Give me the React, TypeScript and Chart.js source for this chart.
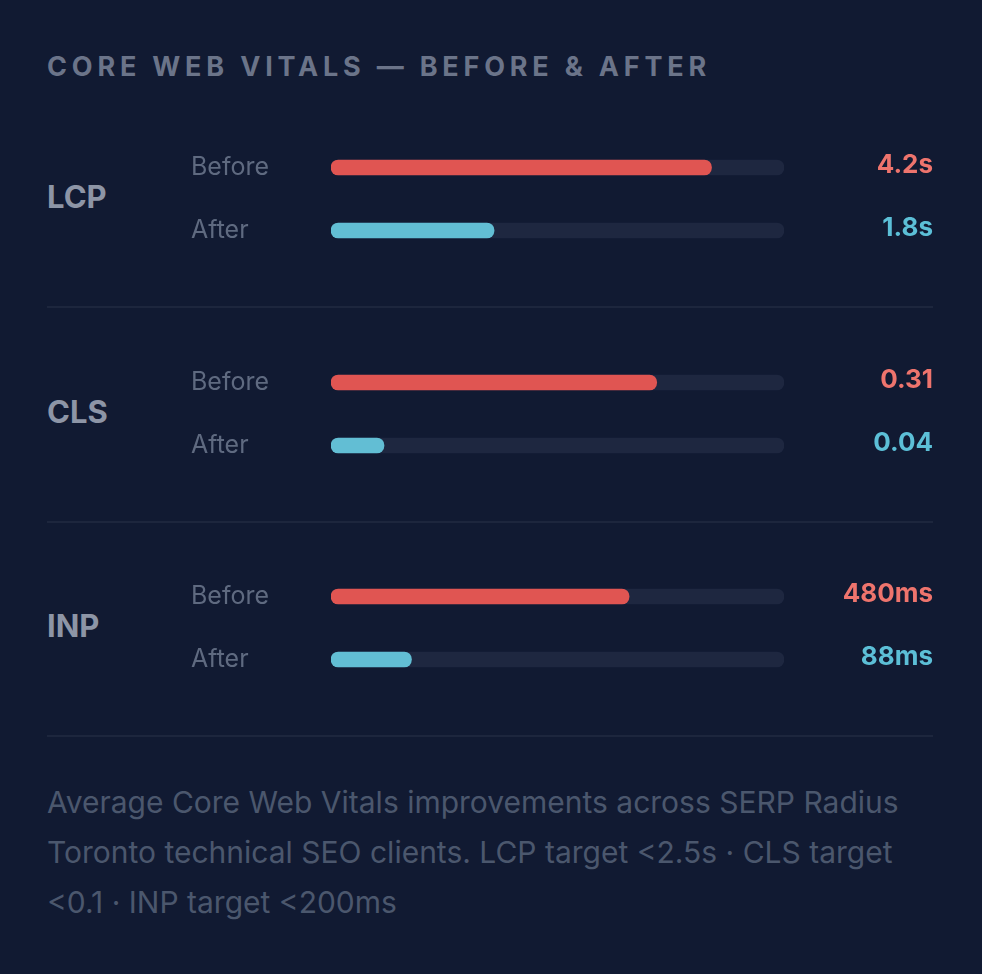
import React, { useEffect, useRef } from "react";
import { Chart, registerables } from "chart.js";

Chart.register(...registerables);

// Metrics and their before / after measurements
const metrics = ["LCP", "CLS", "INP"];
const rowLabels = ["Before", "After"];
const beforeValues = [4.2, 0.31, 480];
const afterValues = [1.8, 0.04, 88];
const valueUnits = ["s", "", "ms"];
// Visible domain of each metric's track
const scaleMin = [0, -0.0125, -57];
const scaleMax = [5, 0.436, 759];

const footerLines = [
  "Average Core Web Vitals improvements across SERP Radius",
  "Toronto technical SEO clients. LCP target <2.5s · CLS target",
  "<0.1 · INP target <200ms",
];

const BG = "#111a32";
const TRACK = "#1e2740";
const RED_BAR = "#e05552";
const CYAN_BAR = "#62bed4";
const RED_TEXT = "#ee746d";
const CYAN_TEXT = "#5cbfd7";
const FONT = "Inter, 'Noto Sans', sans-serif";

const CANVAS_W = 742;
const CANVAS_H = 156;
const GROUP_TOP = 121;
const GROUP_STEP = 214.7;

function MetricChart({ index }: { index: number }) {
  const ref = useRef<HTMLCanvasElement | null>(null);

  useEffect(() => {
    if (!ref.current) return;
    const min = scaleMin[index];
    const max = scaleMax[index];
    const values = [beforeValues[index], afterValues[index]];
    const unit = valueUnits[index];

    const valueLabels = {
      id: "valueLabels",
      afterDatasetsDraw(chart: any) {
        const ctx = chart.ctx;
        const meta = chart.getDatasetMeta(0);
        ctx.save();
        ctx.font = `700 26px ${FONT}`;
        ctx.textAlign = "right";
        ctx.textBaseline = "middle";
        meta.data.forEach((el: any, i: number) => {
          ctx.fillStyle = i === 0 ? RED_TEXT : CYAN_TEXT;
          ctx.fillText(String(values[i]) + unit, chart.width, el.y - 2);
        });
        ctx.restore();
      },
    };

    const chart = new Chart(ref.current, {
      type: "bar",
      data: {
        labels: rowLabels,
        datasets: [
          {
            label: "value",
            data: values.map((v) => [min, v]) as any,
            backgroundColor: [RED_BAR, CYAN_BAR],
            barThickness: 15,
            borderRadius: 20,
            borderSkipped: false,
            grouped: false,
            order: 0,
          },
          {
            label: "track",
            data: values.map(() => [min, max]) as any,
            backgroundColor: TRACK,
            barThickness: 15,
            borderRadius: 20,
            borderSkipped: false,
            grouped: false,
            order: 1,
          },
        ],
      },
      options: {
        indexAxis: "y",
        responsive: false,
        animation: false,
        devicePixelRatio: 1,
        layout: { padding: { left: 0, right: 149, top: 0, bottom: 0 } },
        plugins: {
          legend: { display: false },
          tooltip: { enabled: false },
        },
        scales: {
          x: { display: false, min, max },
          y: {
            type: "category",
            grid: { display: false },
            border: { display: false },
            afterFit: (axis: any) => {
              axis.width = 140;
            },
            ticks: {
              crossAlign: "far",
              padding: 0,
              color: "#5f6a80",
              font: { family: FONT, size: 25, weight: "400" },
            },
          },
        },
      },
      plugins: [valueLabels],
    });
    return () => chart.destroy();
  }, [index]);

  return (
    <canvas
      ref={ref}
      width={CANVAS_W}
      height={CANVAS_H}
      style={{
        position: "absolute",
        left: 191,
        top: GROUP_TOP + index * GROUP_STEP,
        width: CANVAS_W,
        height: CANVAS_H,
      }}
    />
  );
}

export default function App() {
  return (
    <div
      style={{
        position: "fixed",
        left: 0,
        top: 0,
        width: 982,
        height: 974,
        background: BG,
        fontFamily: FONT,
        overflow: "hidden",
      }}
    >
      <div
        style={{
          position: "absolute",
          left: 47,
          top: 49,
          fontSize: 27,
          fontWeight: 700,
          letterSpacing: 4.8,
          color: "#6b7489",
          whiteSpace: "nowrap",
          lineHeight: "36px",
        }}
      >
        CORE WEB VITALS — BEFORE &amp; AFTER
      </div>

      {metrics.map((m, i) => (
        <React.Fragment key={m}>
          <div
            style={{
              position: "absolute",
              left: 47,
              top: 136 + i * GROUP_STEP + 43,
              fontSize: 31,
              fontWeight: 700,
              color: "#8d95a6",
              lineHeight: "36px",
            }}
          >
            {m}
          </div>
          <MetricChart index={i} />
          <div
            style={{
              position: "absolute",
              left: 47,
              width: 886,
              top: 306 + i * GROUP_STEP,
              height: 2,
              background: "#1d263d",
            }}
          />
        </React.Fragment>
      ))}

      <div
        style={{
          position: "absolute",
          left: 47,
          top: 777,
          fontSize: 30,
          lineHeight: "50px",
          color: "#4b576d",
          whiteSpace: "nowrap",
        }}
      >
        {footerLines.map((l) => (
          <div key={l}>{l}</div>
        ))}
      </div>
    </div>
  );
}
